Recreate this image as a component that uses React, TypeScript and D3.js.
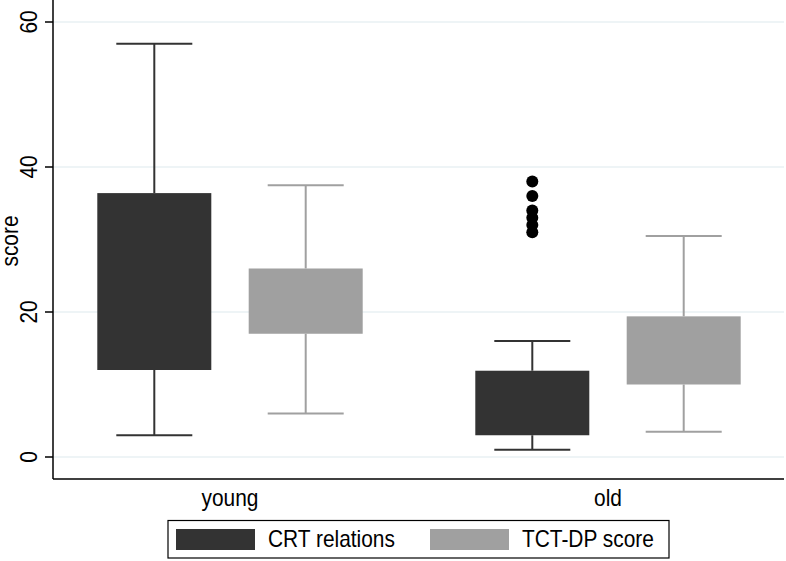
import React from "react";
import * as d3 from "d3";

const groups = ["young", "old"];
const series = ["CRT relations", "TCT-DP score"];
const seriesFill = ["#333333", "#a0a0a0"];

// per group: [young, old]
const crtLow = [3, 1];
const crtQ1 = [12, 3];
const crtQ3 = [36.4, 11.9];
const crtHigh = [57, 16];
const tctLow = [6, 3.5];
const tctQ1 = [17, 10];
const tctQ3 = [26, 19.4];
const tctHigh = [37.5, 30.5];
const crtOutliers = [[], [38, 36, 34, 33, 32, 31]];
const tctOutliers = [[], []];

const yTicks = [0, 20, 40, 60];

const W = 786;
const H = 561;
const axisX = 53;
const axisBottom = 479;
const plotRight = 784;
const FONT = "Arial, 'Liberation Sans', Helvetica, sans-serif";
const SX = 0.87;

export default function App() {
  const y = d3.scaleLinear().domain([0, 60]).range([457, 22]);
  const xg = d3.scalePoint().domain(groups).range([230, 608]);
  const xs = d3
    .scaleBand()
    .domain(series)
    .range([-151.4, 151.4])
    .paddingInner(0.247)
    .paddingOuter(0.1235);
  const bw = xs.bandwidth();
  const capW = (bw * 2) / 3;

  const stats = [
    { low: crtLow, q1: crtQ1, q3: crtQ3, high: crtHigh, out: crtOutliers },
    { low: tctLow, q1: tctQ1, q3: tctQ3, high: tctHigh, out: tctOutliers },
  ];

  const boxes: any[] = [];
  groups.forEach((g, gi) => {
    series.forEach((s, si) => {
      const st = stats[si];
      const x0 = (xg(g) as number) + (xs(s) as number);
      const cx = x0 + bw / 2;
      const col = seriesFill[si];
      boxes.push(
        <g key={g + s}>
          <line x1={cx} x2={cx} y1={y(st.high[gi])} y2={y(st.q3[gi])} stroke={col} strokeWidth={2} />
          <line x1={cx} x2={cx} y1={y(st.q1[gi])} y2={y(st.low[gi])} stroke={col} strokeWidth={2} />
          <line x1={cx - capW / 2} x2={cx + capW / 2} y1={y(st.high[gi])} y2={y(st.high[gi])} stroke={col} strokeWidth={2} />
          <line x1={cx - capW / 2} x2={cx + capW / 2} y1={y(st.low[gi])} y2={y(st.low[gi])} stroke={col} strokeWidth={2} />
          <rect x={x0} y={y(st.q3[gi])} width={bw} height={y(st.q1[gi]) - y(st.q3[gi])} fill={col} />
          {st.out[gi].map((v: number, i: number) => (
            <circle key={i} cx={cx} cy={y(v)} r={6} fill="#000" />
          ))}
        </g>
      );
    });
  });

  const txt = (
    x: number,
    yy: number,
    s: string,
    anchor: string,
    rot = false,
    key?: string
  ) => (
    <text
      key={key}
      transform={`translate(${x},${yy})${rot ? " rotate(-90)" : ""} scale(${SX},1)`}
      textAnchor={anchor}
      fontFamily={FONT}
      fontSize={24}
      fill="#000"
    >
      {s}
    </text>
  );

  return (
    <svg
      width={W}
      height={H}
      style={{ position: "absolute", left: 0, top: 0, background: "#fff" }}
    >
      <rect x={0} y={0} width={W} height={H} fill="#fff" />
      {yTicks.map((t) => (
        <line key={"g" + t} x1={axisX} x2={plotRight} y1={y(t)} y2={y(t)} stroke="#e8f1f3" strokeWidth={1.5} />
      ))}
      {boxes}
      <line x1={axisX} x2={axisX} y1={0} y2={axisBottom} stroke="#000" strokeWidth={1.5} />
      <line x1={axisX} x2={plotRight} y1={axisBottom} y2={axisBottom} stroke="#000" strokeWidth={1.5} />
      {yTicks.map((t) => (
        <line key={"t" + t} x1={axisX - 8} x2={axisX} y1={y(t)} y2={y(t)} stroke="#000" strokeWidth={1.5} />
      ))}
      {yTicks.map((t) => txt(37, y(t), String(t), "middle", true, "l" + t))}
      {txt(18, 241, "score", "middle", true)}
      {groups.map((g) => txt(xg(g) as number, 506, g, "middle", false, "x" + g))}
      <rect x={168} y={520.5} width={501} height={37.5} fill="#fff" stroke="#000" strokeWidth={1.2} />
      {series.map((s, i) => {
        const lx = i === 0 ? 176 : 430;
        return (
          <g key={"lg" + s}>
            <rect x={lx} y={529} width={79} height={21} fill={seriesFill[i]} />
            {txt(lx + 92, 547, s, "start")}
          </g>
        );
      })}
    </svg>
  );
}
